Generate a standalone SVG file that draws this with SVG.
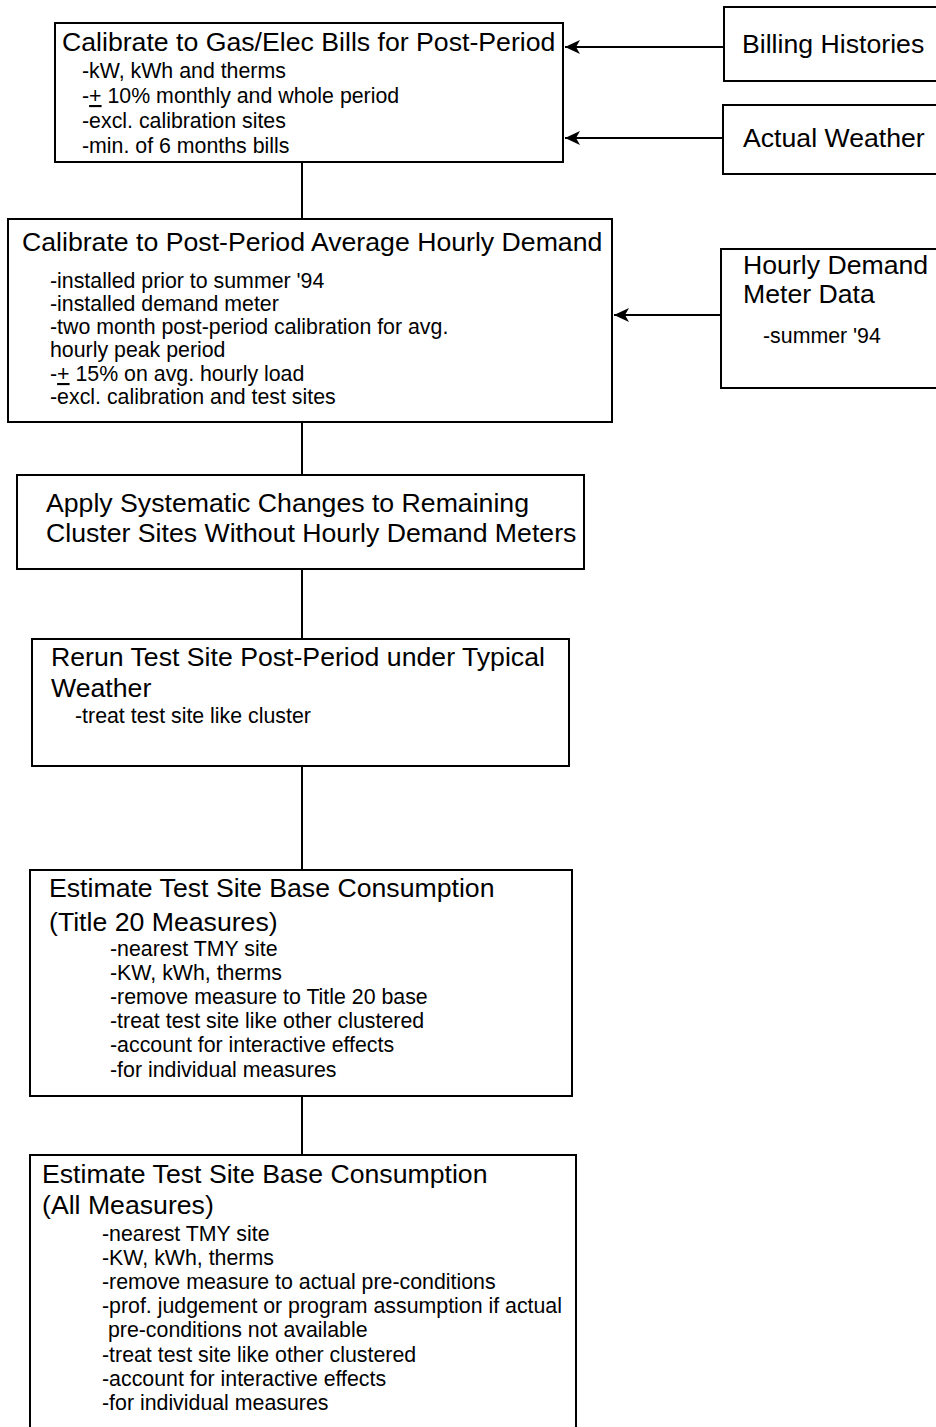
<svg xmlns="http://www.w3.org/2000/svg" width="936" height="1427" viewBox="0 0 936 1427">
<defs>
<style>
.box{fill:#fff;stroke:#000;stroke-width:2}
.t{font-family:"Liberation Sans",Arial,sans-serif;font-size:26.67px;fill:#000}
.s{font-family:"Liberation Sans",Arial,sans-serif;font-size:21.33px;fill:#000}
.c{stroke:#000;stroke-width:2;fill:none}
.u{text-decoration:underline}
</style>
<marker id="ah" markerUnits="userSpaceOnUse" markerWidth="16" markerHeight="14" refX="15" refY="7" orient="auto">
<path d="M0,0 L15,7 L0,14 L4,7 z" fill="#000"/>
</marker>
</defs>
<rect width="936" height="1427" fill="#fff"/>
<g id="connectors">
<line class="c" x1="302" y1="162" x2="302" y2="219"/>
<line class="c" x1="302" y1="422" x2="302" y2="475"/>
<line class="c" x1="302" y1="569" x2="302" y2="639"/>
<line class="c" x1="302" y1="766" x2="302" y2="870"/>
<line class="c" x1="302" y1="1096" x2="302" y2="1155"/>
<line class="c" x1="724" y1="47" x2="565" y2="47" marker-end="url(#ah)"/>
<line class="c" x1="723" y1="138" x2="565" y2="138" marker-end="url(#ah)"/>
<line class="c" x1="721" y1="315" x2="614" y2="315" marker-end="url(#ah)"/>
</g>
<g id="calib-bills">
<rect class="box" x="55" y="23" width="508" height="139"/>
<text class="t" x="62" y="51">Calibrate to Gas/Elec Bills for Post-Period</text>
<text class="s" x="82" y="78">-kW, kWh and therms</text>
<text class="s" x="82" y="103">-<tspan class="u">+</tspan> 10% monthly and whole period</text>
<text class="s" x="82" y="128">-excl. calibration sites</text>
<text class="s" x="82" y="153">-min. of 6 months bills</text>
</g>
<g id="billing">
<rect class="box" x="724" y="7" width="230" height="74"/>
<text class="t" x="742" y="53">Billing Histories</text>
</g>
<g id="weather">
<rect class="box" x="723" y="105" width="230" height="69"/>
<text class="t" x="743" y="147">Actual Weather</text>
</g>
<g id="calib-demand">
<rect class="box" x="8" y="219" width="604" height="203"/>
<text class="t" x="22" y="251">Calibrate to Post-Period Average Hourly Demand</text>
<text class="s" x="50" y="288">-installed prior to summer '94</text>
<text class="s" x="50" y="311">-installed demand meter</text>
<text class="s" x="50" y="334">-two month post-period calibration for avg.</text>
<text class="s" x="50" y="357">hourly peak period</text>
<text class="s" x="50" y="381">-<tspan class="u">+</tspan> 15% on avg. hourly load</text>
<text class="s" x="50" y="404">-excl. calibration and test sites</text>
</g>
<g id="hourly-data">
<rect class="box" x="721" y="249" width="230" height="139"/>
<text class="t" x="743" y="274">Hourly Demand</text>
<text class="t" x="743" y="303">Meter Data</text>
<text class="s" x="763" y="343">-summer '94</text>
</g>
<g id="apply-changes">
<rect class="box" x="17" y="475" width="567" height="94"/>
<text class="t" x="46" y="512">Apply Systematic Changes to Remaining</text>
<text class="t" x="46" y="542">Cluster Sites Without Hourly Demand Meters</text>
</g>
<g id="rerun">
<rect class="box" x="32" y="639" width="537" height="127"/>
<text class="t" x="51" y="666">Rerun Test Site Post-Period under Typical</text>
<text class="t" x="51" y="697">Weather</text>
<text class="s" x="75" y="723">-treat test site like cluster</text>
</g>
<g id="estimate-t20">
<rect class="box" x="30" y="870" width="542" height="226"/>
<text class="t" x="49" y="897">Estimate Test Site Base Consumption</text>
<text class="t" x="49" y="931">(Title 20 Measures)</text>
<text class="s" x="110" y="956">-nearest TMY site</text>
<text class="s" x="110" y="980">-KW, kWh, therms</text>
<text class="s" x="110" y="1004">-remove measure to Title 20 base</text>
<text class="s" x="110" y="1028">-treat test site like other clustered</text>
<text class="s" x="110" y="1052">-account for interactive effects</text>
<text class="s" x="110" y="1077">-for individual measures</text>
</g>
<g id="estimate-all">
<rect class="box" x="30" y="1155" width="546" height="290"/>
<text class="t" x="42" y="1183">Estimate Test Site Base Consumption</text>
<text class="t" x="42" y="1214">(All Measures)</text>
<text class="s" x="102" y="1241">-nearest TMY site</text>
<text class="s" x="102" y="1265">-KW, kWh, therms</text>
<text class="s" x="102" y="1289">-remove measure to actual pre-conditions</text>
<text class="s" x="102" y="1313">-prof. judgement or program assumption if actual</text>
<text class="s" x="102" y="1337" xml:space="preserve"> pre-conditions not available</text>
<text class="s" x="102" y="1362">-treat test site like other clustered</text>
<text class="s" x="102" y="1386">-account for interactive effects</text>
<text class="s" x="102" y="1410">-for individual measures</text>
</g>
</svg>
